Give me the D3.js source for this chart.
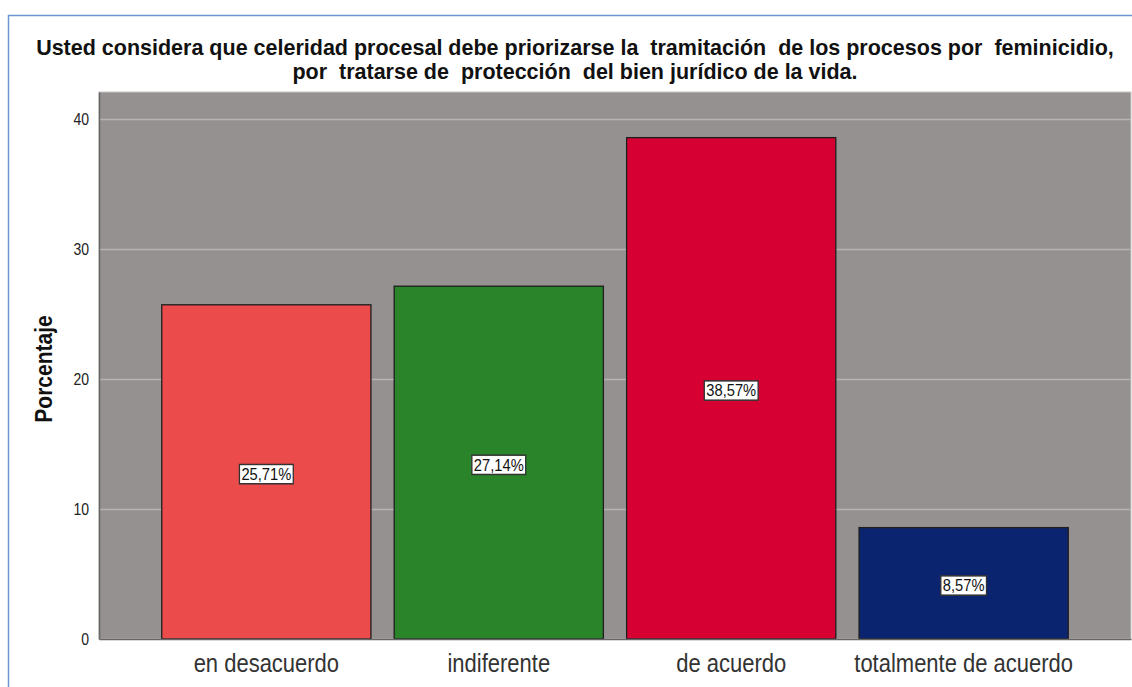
<!DOCTYPE html>
<html>
<head>
<meta charset="utf-8">
<script src="https://cdn.jsdelivr.net/npm/d3@7"></script>
<style>
  body { margin: 0; background: #fff; }
  svg { display: block; font-family: "Liberation Sans", Arial, sans-serif; }
</style>
</head>
<body>
<div id="chart-area"></div>
<script>
// data
var categories = ["en desacuerdo", "indiferente", "de acuerdo", "totalmente de acuerdo"];
var percents = [25.71, 27.14, 38.57, 8.57];
var labels = ["25,71%", "27,14%", "38,57%", "8,57%"];
var colors = ["#ec4b4b", "#2a852a", "#d60032", "#0b2470"];
var yTicks = [0, 10, 20, 30, 40];
var titleLines = [
	"Usted considera que celeridad procesal debe priorizarse la  tramitación  de los procesos por  feminicidio,",
	"por  tratarse de  protección  del bien jurídico de la vida."
];

var width = 1132,
	height = 687;

var plot = {left: 99, right: 1131, top: 92, bottom: 639};
// the original picture is a bit stretched vertically, text too
var stretch = 1.15;

var svg = d3.select("#chart-area").append("svg")
	.attr("width", width)
	.attr("height", height);

// outer frame
svg.append("rect")
	.attr("x", 8.5)
	.attr("y", 15.5)
	.attr("width", 1200)
	.attr("height", 800)
	.attr("fill", "none")
	.attr("stroke", "#6b96cf")
	.attr("stroke-width", 1.5);

// title
svg.selectAll(".title")
	.data(titleLines)
	.enter()
	.append("text")
	.attr("class", "title")
	.attr("x", 575)
	.attr("y", (d, i) => 55 + i * 24)
	.attr("text-anchor", "middle")
	.attr("font-size", "21.5px")
	.attr("font-weight", "bold")
	.attr("fill", "#111")
	.style("white-space", "pre")
	.text(d => d);

var x = d3.scaleBand()
	.domain(categories)
	.range([plot.left, plot.right])
	.paddingInner(0.1)
	.paddingOuter(0.27);

var y = d3.scaleLinear()
	.domain([0, 42.08])
	.range([plot.bottom, plot.top]);

// plot background
svg.append("rect")
	.attr("x", plot.left)
	.attr("y", plot.top)
	.attr("width", plot.right - plot.left)
	.attr("height", plot.bottom - plot.top)
	.attr("fill", "#959190")
	.attr("stroke", "#c8c6c4")
	.attr("stroke-width", 1);

// grid lines
svg.selectAll(".grid")
	.data(yTicks.filter(d => d > 0))
	.enter()
	.append("line")
	.attr("class", "grid")
	.attr("x1", plot.left)
	.attr("x2", plot.right)
	.attr("y1", d => Math.round(y(d)) + 0.5)
	.attr("y2", d => Math.round(y(d)) + 0.5)
	.attr("stroke", "#b7b4b2")
	.attr("stroke-width", 1.5);

// bars
svg.selectAll(".bar")
	.data(percents)
	.enter()
	.append("rect")
	.attr("class", "bar")
	.attr("x", (d, i) => x(categories[i]))
	.attr("y", d => y(d))
	.attr("width", x.bandwidth())
	.attr("height", d => y(0) - y(d))
	.attr("fill", (d, i) => colors[i])
	.attr("stroke", "#1e1e1e")
	.attr("stroke-width", 1.3);

// axes
var yAxis = d3.axisLeft(y)
	.tickValues(yTicks)
	.tickSize(0)
	.tickPadding(10);

var yAxisGroup = svg.append("g")
	.attr("transform", "translate(" + plot.left + ",0)")
	.call(yAxis);
yAxisGroup.select(".domain").attr("stroke", "#666").attr("stroke-width", 1.5);
yAxisGroup.selectAll("text")
	.attr("font-size", "14px")
	.attr("fill", "#222")
	.attr("font-family", "Liberation Sans, Arial, sans-serif")
	.attr("transform", "scale(1," + stretch + ")");

var xAxis = d3.axisBottom(x)
	.tickSize(0)
	.tickFormat("");

var xAxisGroup = svg.append("g")
	.attr("transform", "translate(0," + plot.bottom + ")")
	.call(xAxis);
xAxisGroup.select(".domain").attr("stroke", "#666").attr("stroke-width", 1.5);

xAxisGroup.selectAll(".tick")
	.append("text")
	.attr("transform", "translate(0,33) scale(1," + stretch + ")")
	.attr("text-anchor", "middle")
	.attr("font-size", "22px")
	.attr("fill", "#333")
	.attr("font-family", "Liberation Sans, Arial, sans-serif")
	.text(d => d);

// y axis label
svg.append("text")
	.attr("transform", "translate(52,369) rotate(-90) scale(1," + stretch + ")")
	.attr("text-anchor", "middle")
	.attr("font-size", "21px")
	.attr("font-weight", "bold")
	.attr("fill", "#111")
	.text("Porcentaje");

// value labels
var valueGroups = svg.selectAll(".value")
	.data(percents)
	.enter()
	.append("g")
	.attr("class", "value")
	.attr("transform", (d, i) => "translate(" + (x(categories[i]) + x.bandwidth() / 2) + "," + (y(d / 2) + 2) + ") scale(1," + stretch + ")");

valueGroups.append("text")
	.attr("text-anchor", "middle")
	.attr("dy", "0.36em")
	.attr("font-size", "14.7px")
	.attr("fill", "#111")
	.text((d, i) => labels[i]);

valueGroups.each(function() {
	var g = d3.select(this);
	var bb = g.select("text").node().getBBox();
	g.insert("rect", "text")
		.attr("x", bb.x - 2)
		.attr("y", bb.y - 0.5)
		.attr("width", bb.width + 4)
		.attr("height", bb.height + 1)
		.attr("fill", "#fff")
		.attr("stroke", "#333")
		.attr("stroke-width", 1.3);
});
</script>
</body>
</html>
